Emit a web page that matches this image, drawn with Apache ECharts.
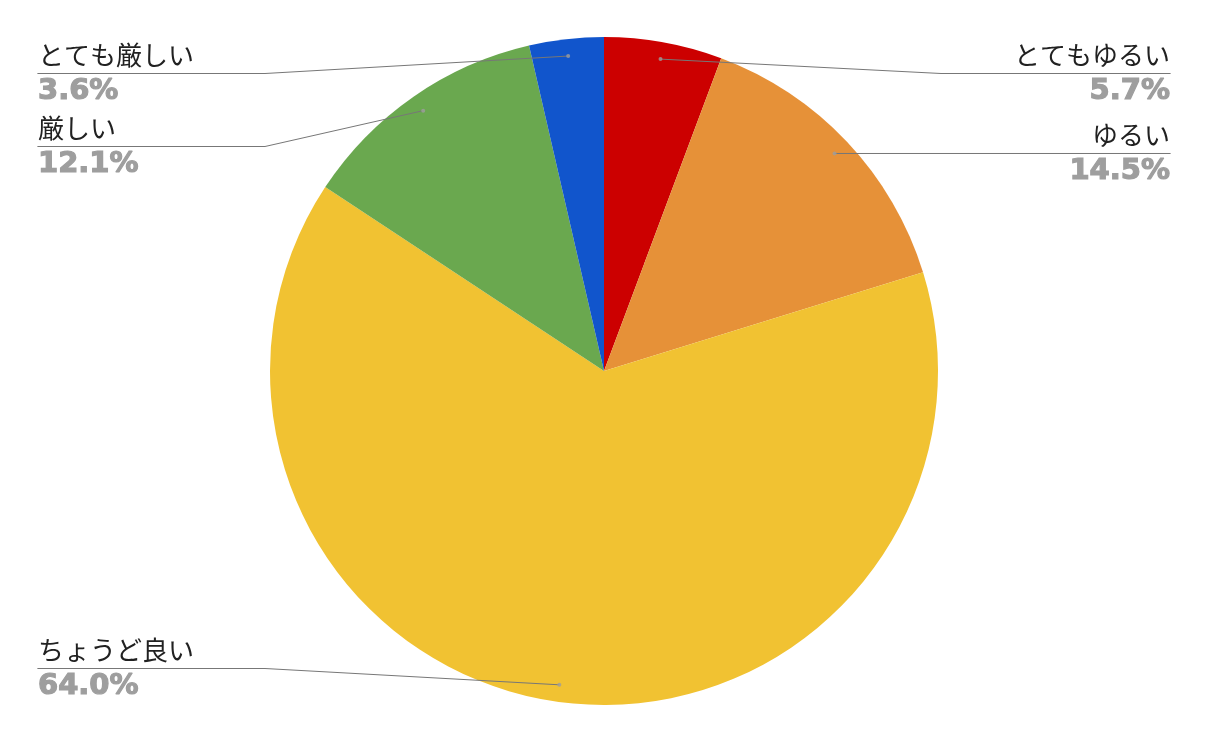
<!DOCTYPE html>
<html>
<head>
<meta charset="utf-8">
<style>
html,body{margin:0;padding:0;background:#fff;}
#chart{width:1208px;height:743px;}
</style>
<script src="https://cdn.jsdelivr.net/npm/echarts@6/dist/echarts.min.js"></script>
</head>
<body>
<div id="chart"></div>
<script>
const categories = ['とてもゆるい', 'ゆるい', 'ちょうど良い', '厳しい', 'とても厳しい'];
const values = [5.7, 14.5, 64.0, 12.1, 3.6];
const colors = ['#cc0000', '#e69138', '#f1c232', '#6aa84f', '#1155cc'];

const chart = echarts.init(document.getElementById('chart'));

const pieData = categories.map((c, i) => ({ name: c, value: values[i], itemStyle: { color: colors[i] } }));
const labelData = categories.map((c, i) => ({ name: c, value: values[i] }));

const total = values.reduce((a, b) => a + b, 0);
let acc = 0;
const dotData = values.map(v => { const mid = acc + v / 2; acc += v; return [0.949, mid]; });

const W = 1208;

chart.setOption({
  animation: false,
  backgroundColor: '#ffffff',
  polar: { center: [604, 371], radius: 334 },
  angleAxis: { type: 'value', min: 0, max: total, startAngle: 90, clockwise: true, show: false },
  radiusAxis: { type: 'value', min: 0, max: 1, show: false },
  series: [
    {
      type: 'pie',
      left: 0, right: 0, top: 37, bottom: 38,
      center: ['50%', '50%'],
      radius: [0, '100%'],
      startAngle: 90,
      clockwise: true,
      silent: true,
      label: { show: false },
      labelLine: { show: false },
      data: pieData,
      z: 1
    },
    {
      type: 'pie',
      left: 0, right: 0, top: 37, bottom: 38,
      center: ['50%', '50%'],
      radius: [0, '94.9%'],
      startAngle: 90,
      clockwise: true,
      silent: true,
      itemStyle: { color: 'rgba(0,0,0,0)' },
      label: {
        show: true,
        position: 'outside',
        alignTo: 'edge',
        edgeDistance: 38,
        minMargin: 1,
        lineHeight: 36,
        formatter: p => '{n|' + p.name + '}\n{p|' + p.value.toFixed(1) + '%}',
        rich: {
          n: { fontFamily: 'Noto Sans CJK JP', fontSize: 26, color: '#212121', lineHeight: 36 },
          p: { fontFamily: 'DejaVu Sans', fontWeight: 'bold', fontSize: 29, color: '#9e9e9e',
               textBorderColor: '#9e9e9e', textBorderWidth: 1.2, lineHeight: 36 }
        }
      },
      labelLine: {
        show: true,
        length: 0,
        length2: 0,
        smooth: false,
        lineStyle: { color: '#777777', width: 1 }
      },
      labelLayout: function (params) {
        const isLeft = params.labelRect.x < W / 2;
        const pts = params.labelLinePoints;
        if (!pts) return {};
        const y = params.labelRect.y + params.labelRect.height / 2;
        pts[1] = [isLeft ? 265 : 941, y];
        pts[2] = [isLeft ? params.labelRect.x : params.labelRect.x + params.labelRect.width, y];
        return { labelLinePoints: pts };
      },
      data: labelData,
      z: 3
    },
    {
      type: 'scatter',
      coordinateSystem: 'polar',
      symbol: 'circle',
      symbolSize: 4,
      silent: true,
      itemStyle: { color: '#9e9e9e' },
      data: dotData,
      z: 4
    }
  ]
});
</script>
</body>
</html>
